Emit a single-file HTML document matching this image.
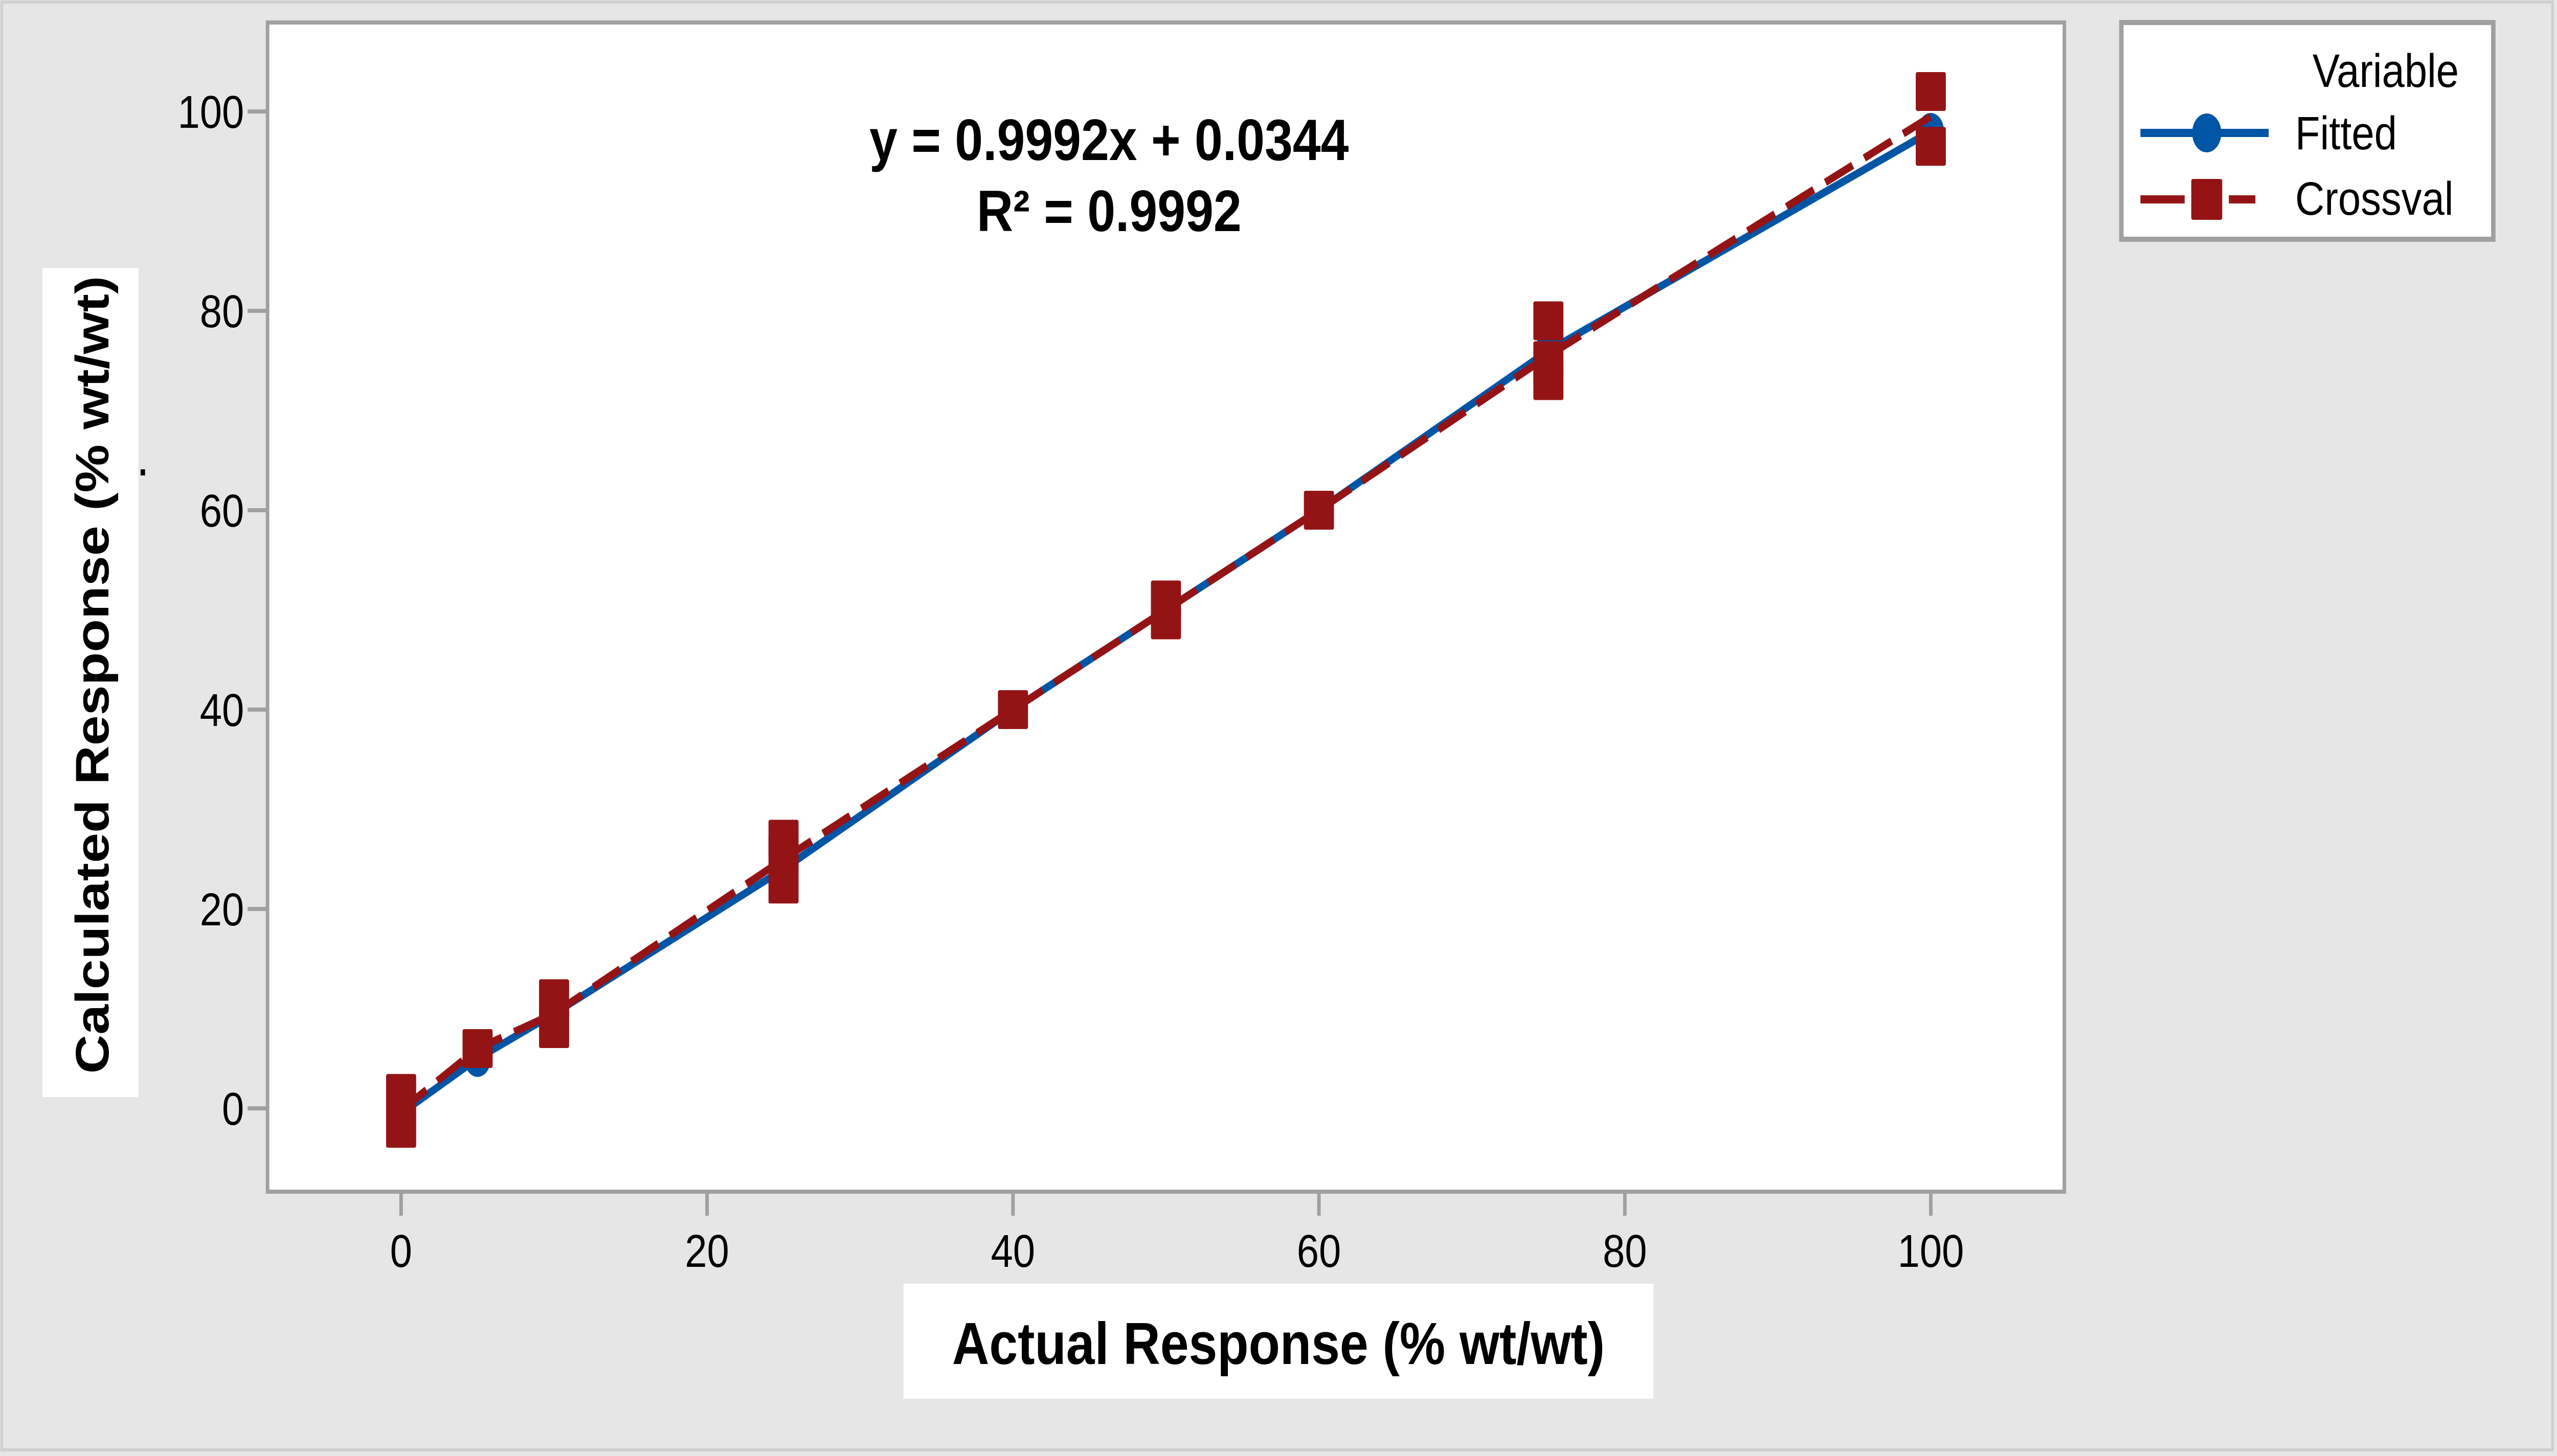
<!DOCTYPE html>
<html><head><meta charset="utf-8"><style>
html,body{margin:0;padding:0;background:#e6e6e6;width:100%;height:100%;overflow:hidden;}
svg{display:block;font-family:"Liberation Sans",sans-serif;width:100vw;height:100vh;}
</style></head><body>
<svg id="chart" viewBox="0 0 5782 2848" preserveAspectRatio="none">
<rect x="0" y="0" width="5782" height="2848" fill="#e6e6e6"/>
<rect x="4" y="4" width="5768" height="2832" fill="none" stroke="#d0d0d0" stroke-width="6"/>
<rect x="605" y="44" width="4063" height="2287" fill="#fff" stroke="#a0a0a0" stroke-width="8"/>
<g id="axes"></g>
<g id="series"></g>
<text x="2508" y="313" font-size="114" font-weight="bold" text-anchor="middle">y = 0.9992x + 0.0344</text>
<text x="2508" y="452" font-size="114" font-weight="bold" text-anchor="middle">R² = 0.9992</text>
<rect x="96" y="524" width="217" height="1622" fill="#fff"/>
<text transform="translate(245,1320) rotate(-90)" font-size="106" font-weight="bold" text-anchor="middle">Calculated Response (% wt/wt)</text>
<rect x="318" y="918" width="10" height="12" fill="#000"/>
<rect x="2043" y="2511" width="1696" height="225" fill="#fff"/>
<text x="2891" y="2668" font-size="116" font-weight="bold" text-anchor="middle">Actual Response (% wt/wt)</text>
<g>
<rect x="4797" y="44" width="841" height="424" fill="#fff" stroke="#a0a0a0" stroke-width="10"/>
<text x="5560" y="170" font-size="92" text-anchor="end">Variable</text>
<line x1="4840" y1="260" x2="5130" y2="260" stroke="#0055a5" stroke-width="16"/>
<ellipse cx="4990" cy="260" rx="33" ry="38" fill="#0055a5"/>
<text x="5190" y="292" font-size="92">Fitted</text>
<line x1="4840" y1="390" x2="4940" y2="390" stroke="#941416" stroke-width="16"/>
<line x1="5040" y1="390" x2="5100" y2="390" stroke="#941416" stroke-width="16"/>
<rect x="4955" y="350" width="70" height="80" rx="4" fill="#941416"/>
<text x="5190" y="420" font-size="92">Crossval</text>
</g>
</svg>
<script>
const xTicks=[0,20,40,60,80,100];
const yTicks=[0,20,40,60,80,100];
const fittedX=[0,5,10,25,40,50,60,75,100];
const fittedY=[-0.5,5,9.5,24,40,50,60,76,98];
const crossX=[0,0,5,10,10,25,25,25,40,50,50,60,75,75,75,100,100];
const crossY=[1.5,-2,6,11,8,27,25.5,22.5,40,51,49,60,79,75,73,102,96.5];
const lineX=[0,5,10,25,40,50,60,75,100];
const crossLineY=[-0.2,6,9.5,25,40,50,60,75.5,99.5];
const NS="http://www.w3.org/2000/svg";
const xs=v=>907+(4366-907)*v/100;
const ys=v=>2168-(2168-218)*v/100;
function mk(tag,attrs,parent){const e=document.createElementNS(NS,tag);for(const k in attrs)e.setAttribute(k,attrs[k]);parent.appendChild(e);return e;}
const ax=document.getElementById('axes');
xTicks.forEach(t=>{
 const l=mk('line',{x1:xs(t),x2:xs(t),y1:2331,y2:2378,stroke:'#a0a0a0','stroke-width':8},ax);
 
 
 const tx=mk('text',{x:xs(t),y:2478,'font-size':90,'text-anchor':'middle'},ax);
 tx.textContent=t;
 
 
});
yTicks.forEach(t=>{
 const l=mk('line',{x1:560,x2:605,y1:ys(t),y2:ys(t),stroke:'#a0a0a0','stroke-width':8},ax);
 
 
 const tx=mk('text',{x:552,y:ys(t)+32,'font-size':90,'text-anchor':'end'},ax);
 tx.textContent=t;
 
 
});
const sg=document.getElementById('series');
const fp=mk('polyline',{points:fittedX.map((x,i)=>xs(x)+','+ys(fittedY[i])).join(' '),fill:'none',stroke:'#0055a5','stroke-width':15},sg);


fittedX.forEach((x,i)=>{
 const c=mk('ellipse',{cx:xs(x),cy:ys(fittedY[i]),rx:30,ry:36,fill:'#0055a5'},sg);
 
 
});
const cp=mk('polyline',{points:lineX.map((x,i)=>xs(x)+','+ys(crossLineY[i])).join(' '),fill:'none',stroke:'#941416','stroke-width':15,'stroke-dasharray':'70,30'},sg);


crossX.forEach((x,i)=>{
 const r=mk('rect',{x:xs(x)-34,y:ys(crossY[i])-38,width:68,height:76,rx:4,fill:'#941416'},sg);
 
 
});
</script>
</body></html>
